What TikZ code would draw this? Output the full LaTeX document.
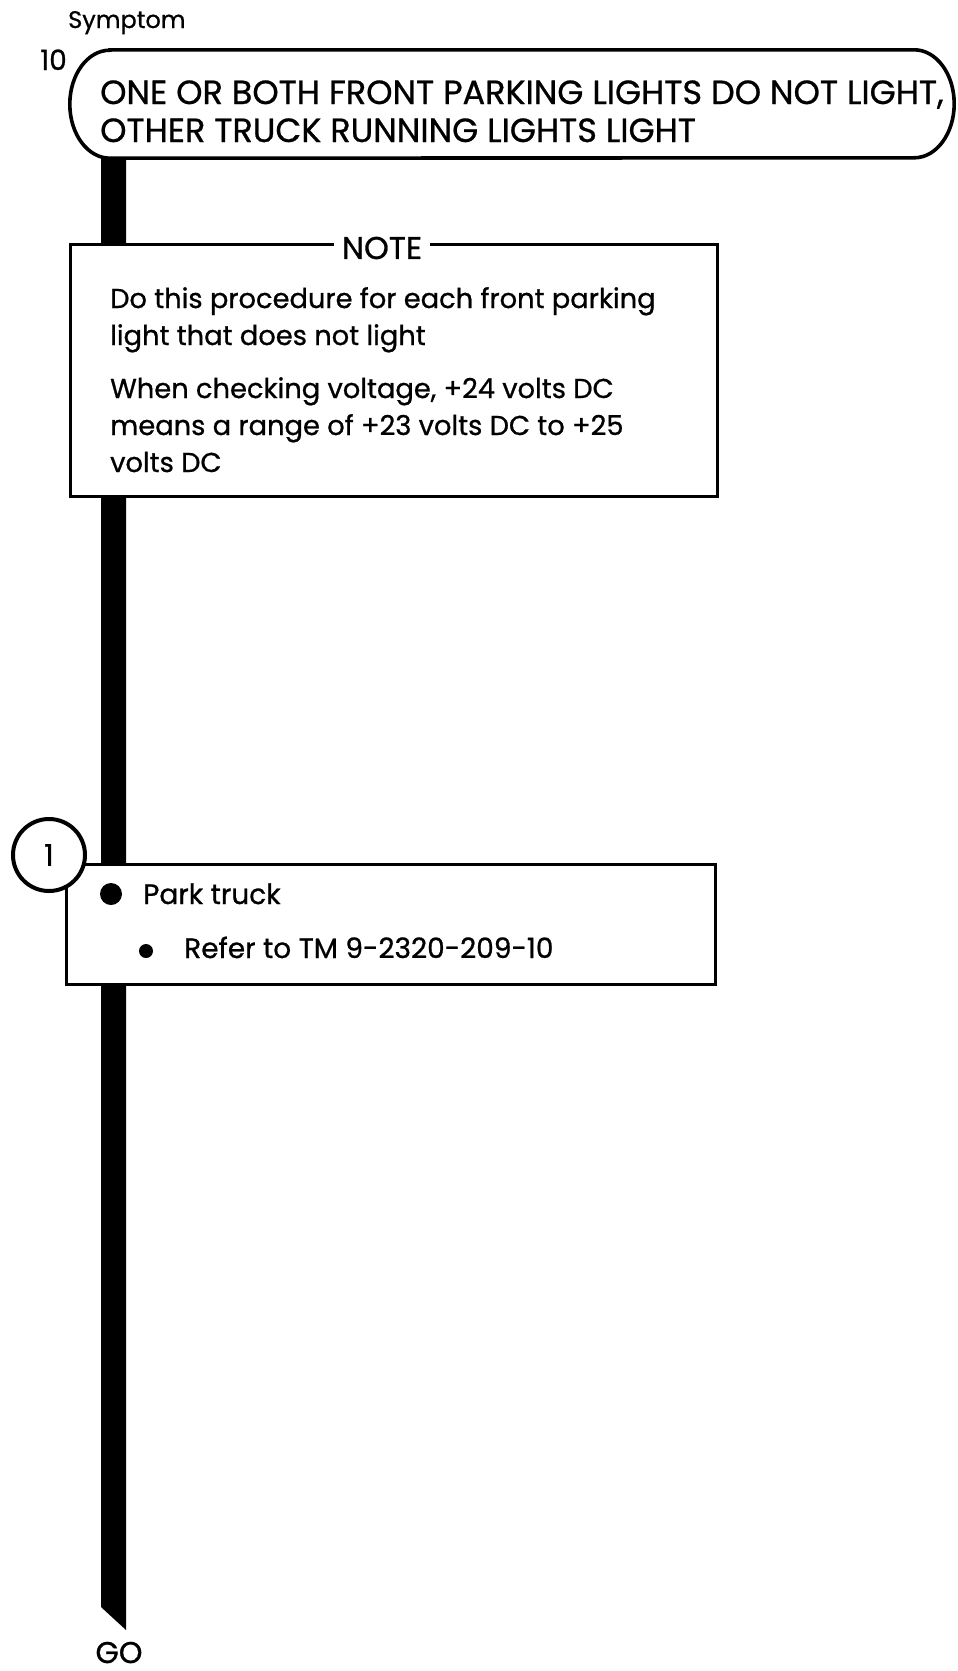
\documentclass[tikz,border=0pt]{standalone}
\usepackage{fontspec}
\setmainfont{Poppins}[FakeBold=0.8]
\begin{document}
\begin{tikzpicture}[x=1pt,y=-1pt,
  boxline/.style={draw=black,line width=3.2pt,fill=white},
  caps/.style={font=\fontsize{33.5}{38}\selectfont,inner sep=0pt,align=left},
  body/.style={font=\fontsize{27.3}{37}\selectfont,inner sep=0pt,align=left},
  steptext/.style={font=\fontsize{28}{28}\selectfont,inner sep=0pt},
  stepcirc/.style={circle,draw=black,line width=4pt,fill=white,minimum size=72pt,inner sep=0pt},
  bigdot/.style={circle,fill=black,minimum size=22pt,inner sep=0pt},
  smalldot/.style={circle,fill=black,minimum size=14pt,inner sep=0pt}
]
\useasboundingbox (0,0) rectangle (958,1671);
% symptom label
\node[anchor=base west,inner sep=0pt,font=\fontsize{24}{24}\selectfont] (symlbl) at (68,28) {Symptom};
\node[anchor=base east,inner sep=0pt,font=\fontsize{28}{28}\selectfont] (symnum) at (67,70) {10};
% symptom frame (outline drawn around it below)
\node[minimum width=884pt,minimum height=108pt,inner sep=0pt] (sym) at (512,104) {};
% connector end
\coordinate (barL) at (101,1607);
\coordinate (barR) at (126,1630);
% thick bar from symptom to GO
\fill ([yshift=10pt]sym.south -| barL) -- ([yshift=10pt]sym.south -| barR) -- (barR) -- (barL) -- cycle;
% symptom outline
\draw[line width=3.6pt,fill=white]
  ([xshift=40pt]sym.north west) -- ([xshift=-40pt]sym.north east)
  arc[start angle=90,end angle=-90,x radius=40pt,y radius=54pt]
  -- ([xshift=40pt]sym.south west)
  arc[start angle=270,end angle=90,x radius=40pt,y radius=54pt] -- cycle;
\node[caps,anchor=base west] (symtxt) at (100,142) {ONE OR BOTH FRONT PARKING LIGHTS DO NOT LIGHT,\\OTHER TRUCK RUNNING LIGHTS LIGHT};
% note box
\node[boxline,minimum width=647pt,minimum height=252pt,anchor=north west,inner sep=0pt] (note) at (69,243) {};
\node[fill=white,inner xsep=8pt,inner ysep=2pt,font=\fontsize{31.5}{31.5}\selectfont] (notehead) at (382,248) {NOTE};
\node[body,anchor=base west] (note1) at (110,345) {Do this procedure for each front parking\\light that does not light};
\node[body,anchor=base west] (note2) at (110,472) {When checking voltage, +24 volts DC\\means a range of +23 volts DC to +25\\volts DC};
% step 1
\node[boxline,minimum width=649pt,minimum height=120pt,anchor=north west,inner sep=0pt] (step1) at (65,863) {};
\node[stepcirc,font=\fontsize{30}{30}\selectfont] (s1) at (49,855) {1};
\node[bigdot] (d1) at (111,894) {};
\node[steptext,anchor=base west] (t1) at (143,904) {Park truck};
\node[smalldot] (d2) at (146,951) {};
\node[steptext,anchor=base west] (t2) at (184,958) {Refer to TM 9-2320-209-10};
% GO
\node[anchor=base,inner sep=0pt,font=\fontsize{30}{30}\selectfont] (go) at (119,1663) {GO};
\end{tikzpicture}
\end{document}
